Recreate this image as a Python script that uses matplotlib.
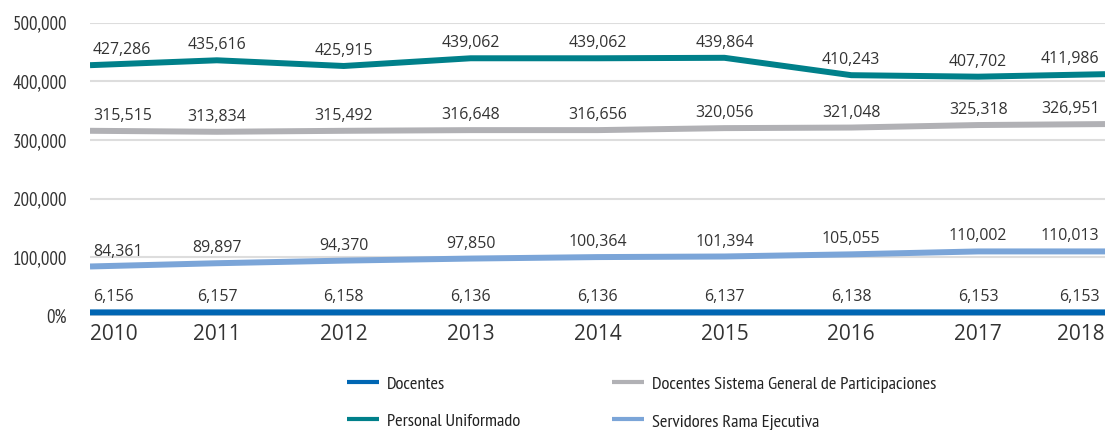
import matplotlib
matplotlib.use("Agg")
import matplotlib.pyplot as plt
from matplotlib.ticker import FuncFormatter

years = ["2010", "2011", "2012", "2013", "2014", "2015", "2016", "2017", "2018"]
docentes = [6156, 6157, 6158, 6136, 6136, 6137, 6138, 6153, 6153]
docentes_sgp = [315515, 313834, 315492, 316648, 316656, 320056, 321048, 325318, 326951]
uniformado = [427286, 435616, 425915, 439062, 439062, 439864, 410243, 407702, 411986]
servidores = [84361, 89897, 94370, 97850, 100364, 101394, 105055, 110002, 110013]
yticks = [0, 100000, 200000, 300000, 400000, 500000]

series = [
    ("Docentes", docentes, "#0066B3"),
    ("Docentes Sistema General de Participaciones", docentes_sgp, "#B1B1B5"),
    ("Personal Uniformado", uniformado, "#00808A"),
    ("Servidores Rama Ejecutiva", servidores, "#7BA5D8"),
]

W, H = 1107, 430
fig = plt.figure(figsize=(W / 100, H / 100), dpi=100)
ax = fig.add_axes([90 / W, 1 - 316 / H, (1105 - 90) / W, (316 - 22.5) / H])

x = list(range(len(years)))
narrow = ["PT Sans Narrow", "DejaVu Sans"]
lab_font = ["Open Sans", "DejaVu Sans"]

for name, vals, col in series:
    ax.plot(x, vals, color=col, lw=4.3, label=name, solid_capstyle="butt", zorder=3)
    for i, v in enumerate(vals):
        ha = "center"
        dx = 0
        if i == 0:
            ha = "left"; dx = 2
        elif i == len(vals) - 1:
            ha = "right"; dx = -4
        ax.annotate(f"{v:,}", (i, v), xytext=(dx, 5), textcoords="offset points",
                    ha=ha, va="bottom", fontsize=11.4, color="#333333", family=lab_font, zorder=4)

ax.set_xlim(0, len(years) - 1)
ax.set_ylim(0, 500000)
ax.set_yticks(yticks)
ax.yaxis.set_major_formatter(FuncFormatter(lambda v, p: "0%" if v == 0 else f"{int(v):,}"))
ax.grid(axis="y", color="#DDDDDD", lw=1.5, zorder=0)
ax.set_axisbelow(True)
for s in ax.spines.values():
    s.set_visible(False)
ax.tick_params(axis="y", length=0, pad=16.5, labelsize=13.5, labelcolor="#333333")
for t in ax.get_yticklabels():
    t.set_family(narrow)
ax.set_xticks(x)
ax.set_xticklabels(years, fontsize=15, color="#333333", family=lab_font)
ax.tick_params(axis="x", length=0, pad=6)
xl = ax.get_xticklabels()
xl[0].set_ha("left")
xl[-1].set_ha("right")

handles, labels = ax.get_legend_handles_labels()
order = [0, 2, 1, 3]
leg = fig.legend([handles[i] for i in order], [labels[i] for i in order], ncol=2,
                 loc="upper left", bbox_to_anchor=(347 / W, 1 - 376 / H),
                 frameon=False, handlelength=1.75, handletextpad=0.44,
                 columnspacing=5.0, labelspacing=1.1, borderpad=0, borderaxespad=0,
                 prop={"family": narrow, "size": 13.2})
for h in leg.get_lines():
    h.set_linewidth(3)
for t in leg.get_texts():
    t.set_color("#222222")

fig.savefig("out.png", dpi=100)
